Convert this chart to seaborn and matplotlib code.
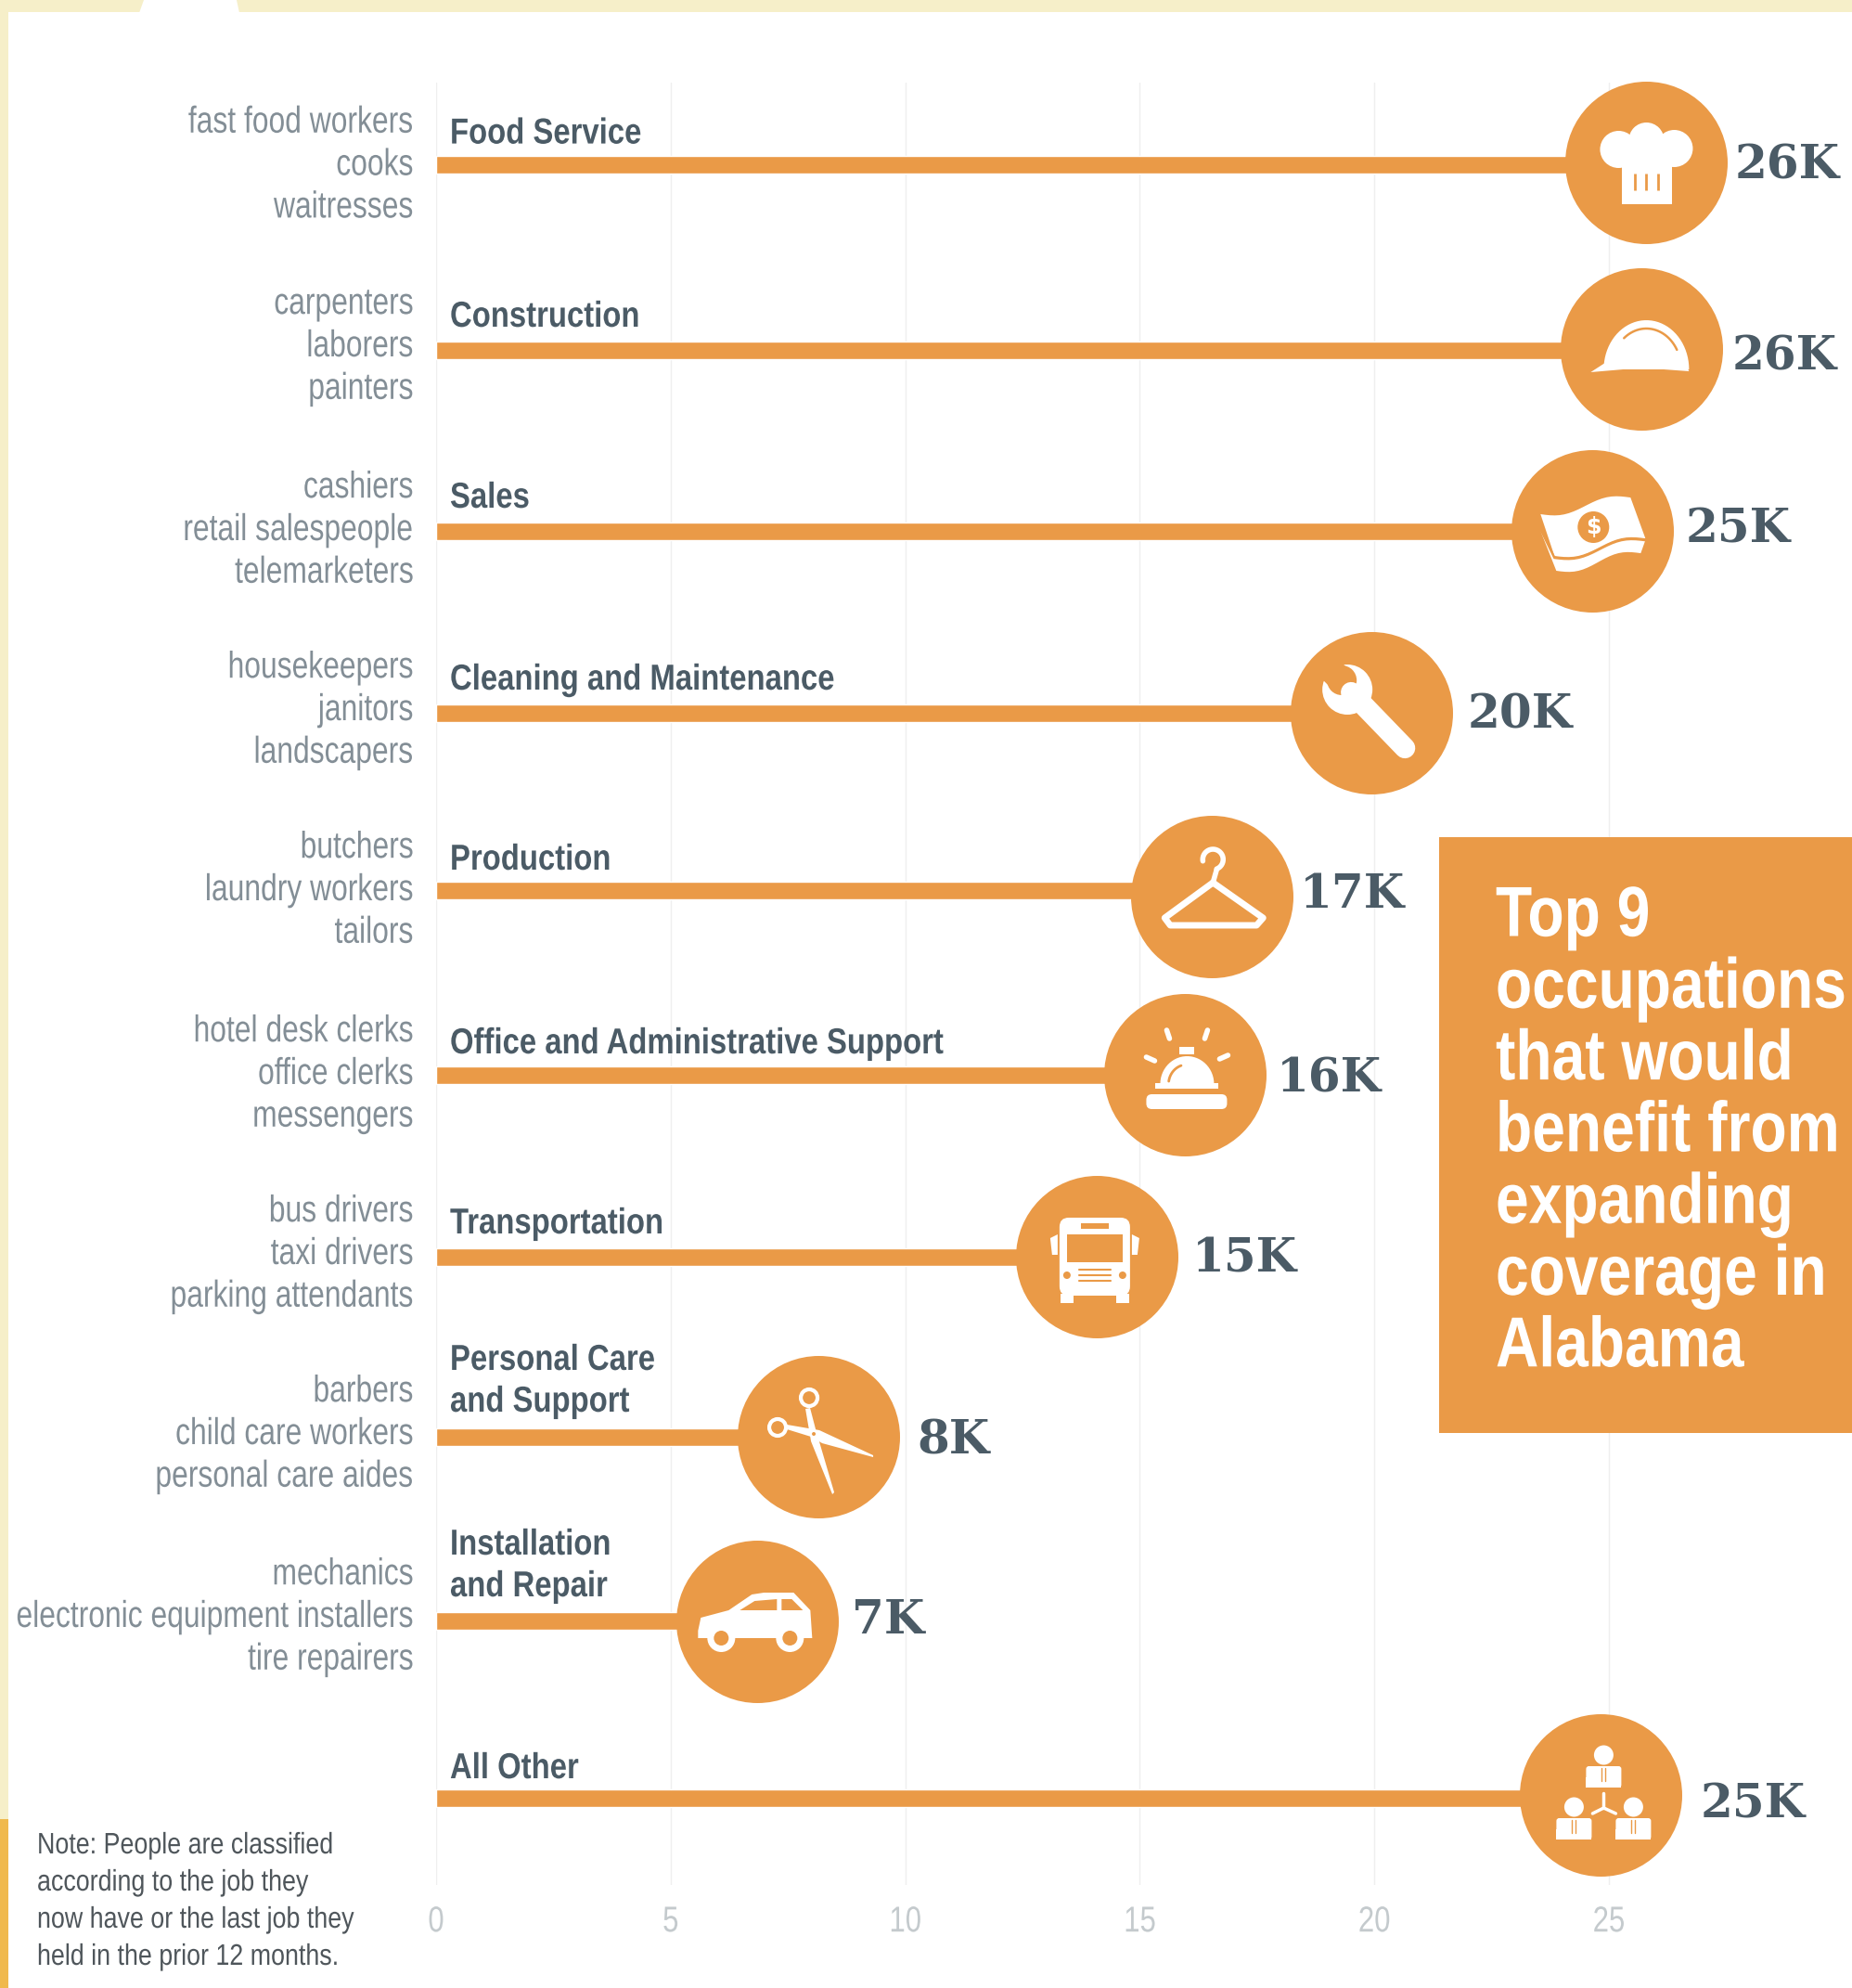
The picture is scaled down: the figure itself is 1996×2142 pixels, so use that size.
import numpy as np
import pandas as pd
import seaborn as sns
import matplotlib.pyplot as plt
from matplotlib.patches import Circle, Polygon, Rectangle, FancyBboxPatch
from matplotlib.patheffects import AbstractPathEffect
from matplotlib.transforms import Affine2D

categories = ["Food Service", "Construction", "Sales", "Cleaning and Maintenance", "Production",
              "Office and Administrative Support", "Transportation", "Personal Care\nand Support",
              "Installation\nand Repair", "All Other"]
values = [25.8, 25.7, 24.65, 19.94, 16.54, 15.97, 14.08, 8.15, 6.85, 24.83]
value_labels = ["26K", "26K", "25K", "20K", "17K", "16K", "15K", "8K", "7K", "25K"]
occupations = [
    ["fast food workers", "cooks", "waitresses"],
    ["carpenters", "laborers", "painters"],
    ["cashiers", "retail salespeople", "telemarketers"],
    ["housekeepers", "janitors", "landscapers"],
    ["butchers", "laundry workers", "tailors"],
    ["hotel desk clerks", "office clerks", "messengers"],
    ["bus drivers", "taxi drivers", "parking attendants"],
    ["barbers", "child care workers", "personal care aides"],
    ["mechanics", "electronic equipment installers", "tire repairers"],
    [],
]
x_ticks = [0, 5, 10, 15, 20, 25]
title_lines = ["Top 9", "occupations", "that would", "benefit from", "expanding", "coverage in", "Alabama"]
note_lines = ["Note: People are classified", "according to the job they",
              "now have or the last job they", "held in the prior 12 months."]

# layout, in pixels of the final image
W, H = 1996, 2142
row_y = [177.6, 377, 572, 768, 959, 1158, 1354, 1548, 1746, 1937]
circle_y = [175, 376, 572, 768, 966, 1158, 1354, 1548, 1747, 1934]
label_gap = [8, 10, 13, 16, 7, 11, 15, 19, 14, 20]
label_dy = [4, 9, -1, 3, -2, 5, 3, 5, 0, 11]
head_dy = [3, 1, 1, 1, 4, 3, 1, 3, 4, 5]
occ_dy = [4, 0, 3, 1, 4, 3, 1, 1, 0, 0]
RADIUS = 87.5

ORANGE = "#ea9a47"
SLATE = "#4b5b66"
GREY = "#838e96"

sns.set_theme(style="whitegrid")
plt.rcParams["font.family"] = ["Liberation Sans", "DejaVu Sans"]


# no condensed font is installed, so squeeze the glyphs sideways at draw time
class Squeeze(AbstractPathEffect):
    def __init__(self, sx, ha="left"):
        super().__init__()
        self.sx = sx
        self.ha = ha

    def draw_path(self, renderer, gc, tpath, affine, rgbFace=None):
        ext = tpath.get_extents()
        anchor = {"left": 0, "center": (ext.x0 + ext.x1) / 2, "right": ext.x1}[self.ha]
        t = Affine2D().translate(-anchor, 0).scale(self.sx, 1).translate(anchor, 0) + affine
        renderer.draw_path(gc, tpath, t, rgbFace)


fig = plt.figure(figsize=(W / 100, H / 100), dpi=100, facecolor="white")

# main axes: x in thousands of workers, y in image pixels
ax = fig.add_axes([470 / W, 1 - 2031 / H, (W - 470) / W, (2031 - 89) / H])
df = pd.DataFrame({"category": categories, "value": values, "row": row_y})
gaps = np.diff(sorted(row_y)).min()
sns.barplot(data=df, x="value", y="row", orient="y", native_scale=True, color=ORANGE, saturation=1,
            width=19 / gaps, errorbar=None, ax=ax, zorder=2)
sns.scatterplot(x=values, y=circle_y, s=(2 * RADIUS * 0.72) ** 2, color=ORANGE, linewidth=0, ax=ax,
                clip_on=False, legend=False, zorder=3)
ax.set_xlim(0, (W - 470) / 50.56)
ax.set_ylim(2031, 89)
ax.set_xticks(x_ticks)
ax.set_yticks([])
ax.set_xlabel("")
ax.set_ylabel("")
ax.grid(axis="x", color="#efefef", linewidth=1)
ax.grid(axis="y", visible=False)
sns.despine(ax=ax, left=True, bottom=True, right=True, top=True)
ax.tick_params(axis="x", length=0, pad=16, labelsize=28, labelcolor="#c4cacd")
for lab in ax.get_xticklabels():
    lab.set_path_effects([Squeeze(0.8, "center")])
ax.patch.set_alpha(0)

# overlay in image pixels for frame, texts and icons
ov = fig.add_axes([0, 0, 1, 1], zorder=5)
ov.set_xlim(0, W)
ov.set_ylim(H, 0)
ov.axis("off")
ov.patch.set_alpha(0)

CREAM = "#f6efc9"
ov.add_patch(Rectangle((0, 0), W, 13, color=CREAM, lw=0))
ov.add_patch(Rectangle((0, 0), 9, 1960, color=CREAM, lw=0))
ov.add_patch(Rectangle((0, 1960), 9, H - 1960, color="#f0b94d", lw=0))
ov.add_patch(Polygon([(155, 0), (150, 14), (258, 14), (255, 0)], color="white", lw=0))

# title box
ov.add_patch(Rectangle((1551, 902), W - 1551, 642, color=ORANGE, lw=0))
for i, line in enumerate(title_lines):
    ov.text(1612, 989 + i * 77.3, line, color="white", fontsize=55, fontweight="bold", va="center", ha="left",
            path_effects=[Squeeze(0.84)])

# note
for i, line in enumerate(note_lines):
    ov.text(40, 1989 + i * 40, line, color="#4f565b", fontsize=23, va="center", ha="left",
            path_effects=[Squeeze(0.84)])

# row texts
for i, cat in enumerate(categories):
    lines = cat.split("\n")
    for j, line in enumerate(lines):
        y = row_y[i] - 36 + head_dy[i] - 45 * (len(lines) - 1 - j)
        if len(lines) > 1:
            y -= 4
        ov.text(485, y, line, color=SLATE, fontsize=28, fontweight="bold", va="center", ha="left",
                path_effects=[Squeeze(0.845)])
    for j, line in enumerate(occupations[i]):
        ov.text(446, row_y[i] - 4 + occ_dy[i] + (j - 1) * 45.8, line, color=GREY, fontsize=29, va="center",
                ha="right", path_effects=[Squeeze(0.79, "right")])


def center(i):
    px, py = ax.transData.transform((values[i], circle_y[i]))
    return px, H - py


for i, lab in enumerate(value_labels):
    cx, cy = center(i)
    ov.text(cx + RADIUS + label_gap[i], cy + label_dy[i], lab, color=SLATE, fontsize=36, fontweight="bold",
            family="DejaVu Serif", va="center", ha="left")


def white_line(xs, ys, lw=5, color="white"):
    ov.plot(xs, ys, color=color, lw=lw, solid_capstyle="round", solid_joinstyle="round")


def poly(cx, cy, pts, color="white"):
    ov.add_patch(Polygon([(cx + a, cy + b) for a, b in pts], color=color, lw=0))


def hat(cx, cy):
    for dx, dy, r in [(-30, -14, 20), (0, -24, 19), (30, -15, 20)]:
        ov.add_patch(Circle((cx + dx, cy + dy), r, color="white", lw=0))
    ov.add_patch(Rectangle((cx - 30, cy - 25), 60, 25, color="white", lw=0))
    ov.add_patch(Rectangle((cx - 26, cy - 10), 54, 55, color="white", lw=0))
    for dx in [-12, 0, 13]:
        ov.plot([cx + dx, cx + dx], [cy + 12, cy + 30], color=ORANGE, lw=2, solid_capstyle="butt")


def helmet(cx, cy):
    t = np.linspace(0, np.pi, 40)
    ov.add_patch(Polygon(np.c_[cx + 5 + 46 * np.cos(t), cy + 22 - 53 * np.sin(t)], color="white", lw=0))
    poly(cx, cy, [(-55, 25), (-38, 14), (46, 14), (51, 24), (10, 21), (-20, 22)])
    t = np.linspace(0.5, 2.27, 30)
    ov.plot(cx + 5 + 37.5 * np.cos(t), cy + 22 - 44 * np.sin(t), color=ORANGE, lw=1.8)


def money(cx, cy):
    t = np.linspace(0, 1, 20)
    wave = 5 * np.sin(t * 6.3)
    top = np.c_[cx - 56 + 97 * t, cy - 18 - 18 * t + wave]
    bottom = np.c_[cx - 41 + 98 * t, cy + 27 - 19 * t + wave]
    under = np.c_[cx - 39 + 91 * t, cy + 43 - 19 * t + wave]
    ov.add_patch(Polygon(np.r_[top, bottom[::-1]], color="white", lw=0))
    ov.add_patch(Polygon(np.r_[[[cx - 56, cy]], bottom + [0, 2], under[::-1]], color="white", lw=0))
    ov.plot(np.r_[cx - 56, bottom[:, 0]], np.r_[cy - 2, bottom[:, 1] + 2], color=ORANGE, lw=1.8)
    ov.add_patch(Circle((cx + 1, cy - 4), 17, color=ORANGE, lw=0))
    ov.text(cx + 1, cy - 4, "$", color="white", fontsize=17, fontweight="bold", ha="center", va="center",
            family="DejaVu Sans")


def wrench(cx, cy):
    white_line([cx - 22, cx + 36], [cy - 22, cy + 38], lw=16)
    ov.add_patch(Circle((cx - 26, cy - 25), 27, color="white", lw=0))
    ov.add_patch(Circle((cx - 32, cy - 35), 16, color=ORANGE, lw=0))
    poly(cx, cy, [(-24, -46), (-44, -27), (-58, -41), (-38, -60)], ORANGE)
    ov.add_patch(Circle((cx + 36, cy + 36), 5, color=ORANGE, lw=0))


def hanger(cx, cy):
    white_line([cx + 1, cx - 51, cx - 45, cx + 48, cx + 55, cx + 1],
               [cy - 15, cy + 23, cy + 31, cy + 31, cy + 23, cy - 15], lw=5)
    t = np.linspace(-3.3, 1.2, 30)
    ov.plot(cx + 1 + 11 * np.cos(t), cy - 40 + 11 * np.sin(t), color="white", lw=4)
    white_line([cx + 5, cx + 1], [cy - 29, cy - 15], lw=4)


def bell(cx, cy):
    ov.add_patch(FancyBboxPatch((cx - 42, cy + 21), 87, 16, boxstyle="round,pad=0,rounding_size=6", color="white", lw=0))
    ov.add_patch(Rectangle((cx - 32, cy + 9), 68, 6, color="white", lw=0))
    t = np.linspace(0, np.pi, 30)
    ov.add_patch(Polygon(np.c_[cx + 2 + 29 * np.cos(t), cy + 10 - 30 * np.sin(t)], color="white", lw=0))
    ov.add_patch(Rectangle((cx - 6, cy - 30), 16, 8, color="white", lw=0))
    t = np.linspace(1.9, 3.0, 12)
    ov.plot(cx + 2 + 20 * np.cos(t), cy + 10 - 21 * np.sin(t), color=ORANGE, lw=2)
    for x0, y0, x1, y1 in [(-42, -19, -33, -15), (-20, -48, -17, -39), (24, -48, 21, -39), (46, -21, 37, -17)]:
        white_line([cx + x0, cx + x1], [cy + y0, cy + y1], lw=4)


def bus(cx, cy):
    cx -= 2
    ov.add_patch(FancyBboxPatch((cx - 38, cy - 42), 76, 84, boxstyle="round,pad=0,rounding_size=10", color="white", lw=0))
    ov.add_patch(Rectangle((cx - 30, cy - 24), 60, 30, color=ORANGE, lw=0))
    ov.add_patch(Rectangle((cx - 15, cy - 36), 30, 6, color=ORANGE, lw=0))
    for dx in [-30, 30]:
        ov.add_patch(Circle((cx + dx, cy + 20), 4, color=ORANGE, lw=0))
        ov.add_patch(Rectangle((cx + dx - 7, cy + 40), 14, 10, color="white", lw=0))
    for dy in [14, 20, 26]:
        ov.plot([cx - 17, cx + 17], [cy + dy, cy + dy], color=ORANGE, lw=1.5)
    poly(cx, cy, [(-48, -20), (-40, -24), (-40, -2), (-46, -2)])
    poly(cx, cy, [(48, -20), (40, -24), (40, -2), (46, -2)])


def scissors(cx, cy):
    poly(cx, cy, [(-34, -13), (1, -7), (59, 20), (59, 22), (4, 7), (-8, 0), (-34, -8)])
    poly(cx, cy, [(-9, -31), (-3, -8), (17, 60), (15, 62), (-8, 5), (-14, -30)])
    ov.add_patch(Circle((cx - 10, cy - 42), 9, fc="none", ec="white", lw=3))
    ov.add_patch(Circle((cx - 44, cy - 10), 9, fc="none", ec="white", lw=3))
    ov.add_patch(Circle((cx - 5, cy - 3), 2, color=ORANGE, lw=0))


def car(cx, cy):
    poly(cx, cy, [(-64, 18), (-64, 10), (-61, -4), (-31, -12), (-6, -29), (7, -31), (39, -31), (57, -12), (59, 18)])
    poly(cx, cy, [(-19, -12), (-3, -22), (21, -24), (21, -12)], ORANGE)
    poly(cx, cy, [(26, -24), (37, -24), (49, -12), (26, -12)], ORANGE)
    for dx in [-39, 35]:
        ov.add_patch(Circle((cx + dx, cy + 18), 15, color="white", lw=0))
        ov.add_patch(Circle((cx + dx, cy + 18), 8, color=ORANGE, lw=0))


def org(cx, cy):
    for dx, head_y, body_y in [(3, -43, -31), (-29, 13, 25), (35, 13, 25)]:
        ov.add_patch(Circle((cx + dx, cy + head_y), 10.5, color="white", lw=0))
        ov.add_patch(FancyBboxPatch((cx + dx - 19, cy + body_y), 38, 23, boxstyle="round,pad=0,rounding_size=3", color="white", lw=0))
        ov.add_patch(Rectangle((cx + dx - 19, cy + body_y + 12), 38, 11, color="white", lw=0))
        ov.plot([cx + dx - 2, cx + dx - 2], [cy + body_y + 2, cy + body_y + 16], color=ORANGE, lw=1)
        ov.plot([cx + dx + 2, cx + dx + 2], [cy + body_y + 2, cy + body_y + 16], color=ORANGE, lw=1)
    white_line([cx + 3, cx + 3], [cy - 2, cy + 14], lw=2.5)
    white_line([cx + 3, cx - 9], [cy + 14, cy + 20], lw=2.5)
    white_line([cx + 3, cx + 16], [cy + 14, cy + 20], lw=2.5)


icons = [hat, helmet, money, wrench, hanger, bell, bus, scissors, car, org]
for i, draw in enumerate(icons):
    draw(*center(i))
ov.set_xlim(0, W)
ov.set_ylim(H, 0)

fig.savefig("out.png", dpi=100)
